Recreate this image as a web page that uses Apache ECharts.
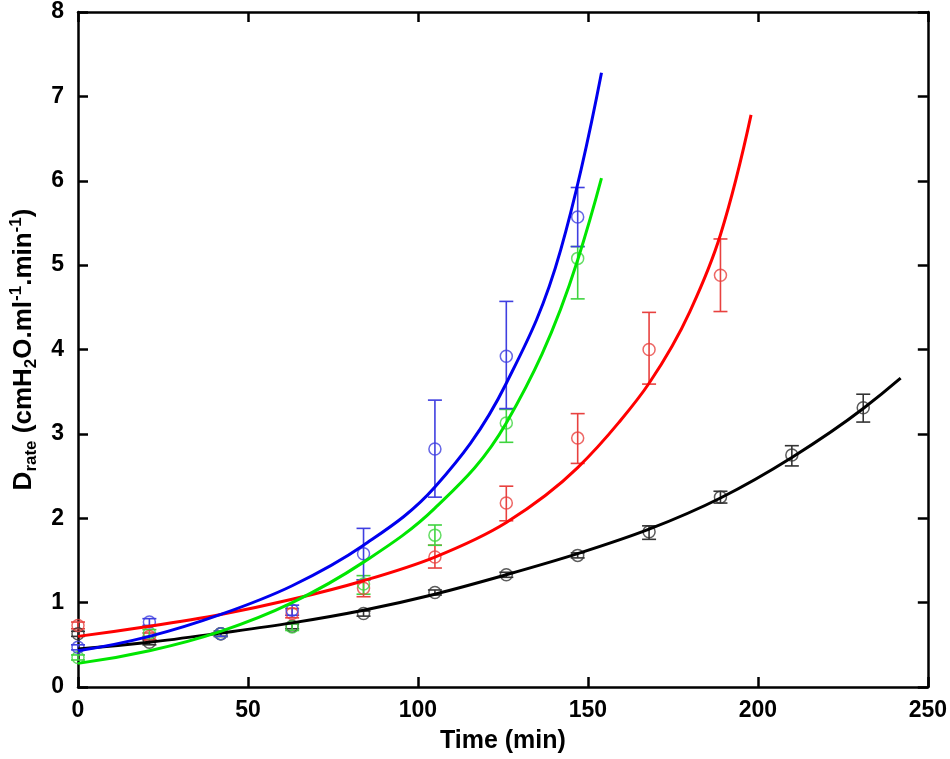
<!DOCTYPE html>
<html>
<head>
<meta charset="utf-8">
<script src="https://cdn.jsdelivr.net/npm/echarts@6/dist/echarts.min.js"></script>
<style>html,body{margin:0;padding:0;background:#fff}#c{width:950px;height:759px}</style>
</head>
<body>
<div id="c"></div>
<script>
// Measurement times (min)
const tPts = [0, 21, 42, 63, 84, 105, 126, 147, 168, 189, 210, 231];

// Black series
const blackMean = [0.63, 0.53, 0.63, 0.72, 0.87, 1.12, 1.33, 1.56, 1.84, 2.25, 2.75, 3.31];
const blackLo   = [0.60, 0.50, 0.60, 0.69, 0.84, 1.09, 1.30, 1.53, 1.75, 2.18, 2.62, 3.14];
const blackHi   = [0.66, 0.56, 0.66, 0.75, 0.90, 1.15, 1.36, 1.59, 1.91, 2.32, 2.86, 3.47];
// Red series
const redMean = [0.73, 0.60, 0.63, 0.87, 1.17, 1.54, 2.18, 2.95, 4.00, 4.88];
const redLo   = [0.69, 0.56, 0.60, 0.82, 1.07, 1.41, 1.97, 2.65, 3.59, 4.45];
const redHi   = [0.77, 0.64, 0.66, 0.93, 1.27, 1.68, 2.38, 3.24, 4.44, 5.31];
// Blue series
const blueMean = [0.47, 0.77, 0.63, 0.91, 1.58, 2.82, 3.92, 5.57];
const blueLo   = [0.44, 0.73, 0.60, 0.85, 1.27, 2.25, 3.30, 5.22];
const blueHi   = [0.50, 0.81, 0.66, 0.97, 1.88, 3.40, 4.57, 5.92];
// Green series
const greenMean = [0.35, 0.64, 0.63, 0.71, 1.22, 1.80, 3.13, 5.08];
const greenLo   = [0.32, 0.60, 0.60, 0.67, 1.10, 1.68, 2.90, 4.60];
const greenHi   = [0.38, 0.68, 0.66, 0.75, 1.32, 1.92, 3.29, 5.22];

// Fitted curves
const blackFitT = [0, 21, 42, 63, 84, 105, 126, 147, 168, 189, 210, 231, 242];
const blackFit  = [0.45, 0.53, 0.64, 0.76, 0.91, 1.10, 1.33, 1.58, 1.87, 2.24, 2.72, 3.30, 3.66];
const redFitT = [0, 21, 42, 63, 84, 105, 126, 147, 159, 168, 180, 189, 198];
const redFit  = [0.60, 0.72, 0.86, 1.04, 1.26, 1.54, 1.95, 2.60, 3.13, 3.60, 4.45, 5.36, 6.78];
const blueFitT = [0, 21, 42, 63, 84, 105, 126, 142, 154];
const blueFit  = [0.43, 0.60, 0.86, 1.20, 1.68, 2.37, 3.60, 5.18, 7.28];
const greenFitT = [0, 21, 42, 63, 84, 105, 126, 147, 154];
const greenFit  = [0.28, 0.43, 0.66, 1.00, 1.48, 2.12, 3.13, 5.06, 6.03];

// Axis ticks
const xMin = 0, xMax = 250, xStep = 50;
const yMin = 0, yMax = 8, yStep = 1;

const FONT = 'Liberation Sans';
const zip = (a, b) => a.map((v, i) => [v, b[i]]);
const zip3 = (a, b, c) => a.map((v, i) => [v, b[i], c[i]]);

function errSeries(mean, lo, hi, color) {
  const t = tPts.slice(0, mean.length);
  return {
    type: 'custom',
    clip: false,
    z: 3,
    data: zip3(t, lo, hi),
    encode: { x: 0, y: [1, 2] },
    renderItem: function (params, api) {
      const x = api.value(0);
      const pHi = api.coord([x, api.value(2)]);
      const pLo = api.coord([x, api.value(1)]);
      const w = 7;
      const st = { stroke: color, lineWidth: 1.6 };
      return {
        type: 'group',
        children: [
          { type: 'line', shape: { x1: pHi[0], y1: pHi[1], x2: pLo[0], y2: pLo[1] }, style: st },
          { type: 'line', shape: { x1: pHi[0] - w, y1: pHi[1], x2: pHi[0] + w, y2: pHi[1] }, style: st },
          { type: 'line', shape: { x1: pLo[0] - w, y1: pLo[1], x2: pLo[0] + w, y2: pLo[1] }, style: st }
        ]
      };
    }
  };
}
function markSeries(mean, color) {
  return {
    type: 'scatter',
    clip: false,
    z: 4,
    symbol: 'circle',
    symbolSize: 12,
    itemStyle: { color: 'rgba(255,255,255,0)', borderColor: color, borderWidth: 1.5 },
    emphasis: { disabled: true },
    data: zip(tPts.slice(0, mean.length), mean)
  };
}
// Smooth curve through the read points (cubic Hermite in pixel space)
function fitSeries(t, v, color) {
  return {
    type: 'custom',
    clip: false,
    z: 5,
    data: zip(t, v),
    encode: { x: 0, y: 1 },
    renderItem: function (params, api) {
      if (params.dataIndex !== 0) return null;
      const P = t.map((tt, i) => api.coord([tt, v[i]]));
      const n = P.length;
      const d = [], h = [];
      for (let i = 0; i < n - 1; i++) {
        h.push(P[i + 1][0] - P[i][0]);
        d.push((P[i + 1][1] - P[i][1]) / h[i]);
      }
      const m = [];
      for (let i = 0; i < n; i++) {
        if (i === 0) m.push(d[0] + (d[0] - (d[1] !== undefined ? d[1] : d[0])) * h[0] / (h[0] + (h[1] || h[0])) );
        else if (i === n - 1) m.push(d[n - 2] + (d[n - 2] - d[n - 3]) * h[n - 2] / (h[n - 2] + h[n - 3]));
        else m.push((h[i - 1] * d[i] + h[i] * d[i - 1]) / (h[i - 1] + h[i]));
      }
      let path = 'M' + P[0][0] + ' ' + P[0][1];
      for (let i = 0; i < n - 1; i++) {
        const c1x = P[i][0] + h[i] / 3, c1y = P[i][1] + m[i] * h[i] / 3;
        const c2x = P[i + 1][0] - h[i] / 3, c2y = P[i + 1][1] - m[i + 1] * h[i] / 3;
        path += ' C' + c1x + ' ' + c1y + ' ' + c2x + ' ' + c2y + ' ' + P[i + 1][0] + ' ' + P[i + 1][1];
      }
      return {
        type: 'path',
        shape: { pathData: path },
        style: { fill: 'none', stroke: color, lineWidth: 3 }
      };
    }
  };
}

const axisCommon = {
  axisLine: { show: true, onZero: false, lineStyle: { color: '#000', width: 2.5 } },
  axisTick: { show: true, inside: true, length: 10, lineStyle: { color: '#000', width: 2.5 } },
  splitLine: { show: false }
};

const chart = echarts.init(document.getElementById('c'), null, { renderer: 'canvas' });
chart.setOption({
  animation: false,
  backgroundColor: '#fff',
  grid: { left: 75, right: 20, top: 12, bottom: 72 },
  xAxis: [
    Object.assign({
      type: 'value', min: xMin, max: xMax, interval: xStep, position: 'bottom',
      axisLabel: { fontFamily: FONT, fontWeight: 'bold', fontSize: 23, color: '#000', margin: 12 },
      name: 'Time (min)', nameLocation: 'middle', nameGap: 42,
      nameTextStyle: { fontFamily: FONT, fontWeight: 'bold', fontSize: 25, color: '#000' }
    }, axisCommon),
    Object.assign({
      type: 'value', min: xMin, max: xMax, interval: xStep, position: 'top',
      axisLabel: { show: false }
    }, axisCommon)
  ],
  yAxis: [
    Object.assign({
      type: 'value', min: yMin, max: yMax, interval: yStep, position: 'left',
      axisLabel: { fontFamily: FONT, fontWeight: 'bold', fontSize: 23, color: '#000', margin: 14 },
      name: '{b|D}{sub|rate}{b| (cmH}{sub|2}{b|O.ml}{sup|-1}{b|.min}{sup|-1}{b|)}',
      nameLocation: 'middle', nameGap: 38, nameRotate: 90,
      nameTextStyle: {
        fontFamily: FONT, fontWeight: 'bold', fontSize: 26, color: '#000',
        rich: {
          b: { fontFamily: FONT, fontWeight: 'bold', fontSize: 26, color: '#000' },
          sub: { fontFamily: FONT, fontWeight: 'bold', fontSize: 17, color: '#000', padding: [16, 0, 0, 0] },
          sup: { fontFamily: FONT, fontWeight: 'bold', fontSize: 17, color: '#000', padding: [0, 0, 14, 0] }
        }
      }
    }, axisCommon),
    Object.assign({
      type: 'value', min: yMin, max: yMax, interval: yStep, position: 'right',
      axisLabel: { show: false }
    }, axisCommon)
  ],
  series: [
    errSeries(blackMean, blackLo, blackHi, '#333333'),
    errSeries(redMean, redLo, redHi, '#e8413f'),
    errSeries(greenMean, greenLo, greenHi, '#3fd43f'),
    errSeries(blueMean, blueLo, blueHi, '#3f3fe0'),
    markSeries(blackMean, '#333333'),
    markSeries(redMean, '#e8413f'),
    markSeries(greenMean, '#3fd43f'),
    markSeries(blueMean, '#3f3fe0'),
    fitSeries(blackFitT, blackFit, '#000000'),
    fitSeries(redFitT, redFit, '#ff0000'),
    fitSeries(greenFitT, greenFit, '#00e600'),
    fitSeries(blueFitT, blueFit, '#0000ee')
  ]
});
</script>
</body>
</html>
